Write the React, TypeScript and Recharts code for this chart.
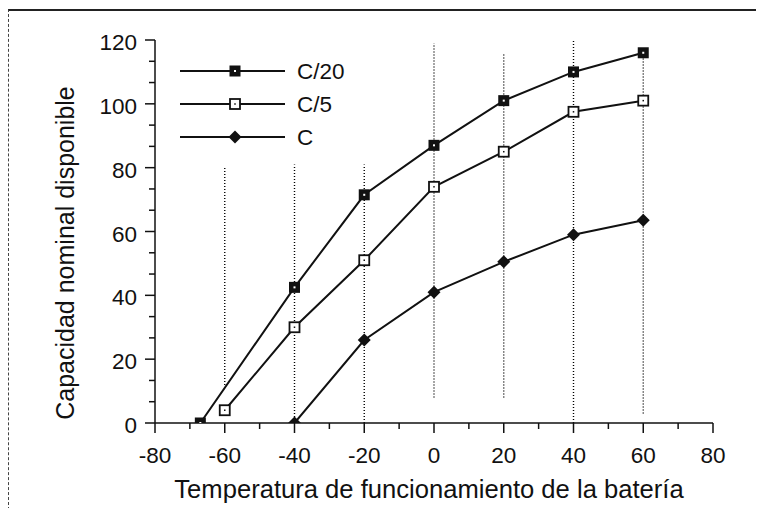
import { LineChart, Line, XAxis, YAxis, ReferenceLine } from "recharts";

const seriesNames = ["C/20", "C/5", "C"];

const c20Temps = [-67, -40, -20, 0, 20, 40, 60];
const c20Values = [0, 42.5, 71.5, 87, 101, 110, 116];

const c5Temps = [-60, -40, -20, 0, 20, 40, 60];
const c5Values = [4, 30, 51, 74, 85, 97.5, 101];

const cTemps = [-40, -20, 0, 20, 40, 60];
const cValues = [0, 26, 41, 50.5, 59, 63.5];

const xMajorTicks = [-80, -60, -40, -20, 0, 20, 40, 60, 80];
const xMinorTicks = [-70, -50, -30, -10, 10, 30, 50, 70];
const yMajorTicks = [0, 20, 40, 60, 80, 100, 120];
const yMinorTicks = [6.67, 13.33, 26.67, 33.33, 46.67, 53.33, 66.67, 73.33, 86.67, 93.33, 106.67, 113.33];

// dotted verticals, they do not all run the full height
const gridTemps = [-60, -40, -20, 0, 20, 40, 60];
const gridTops = [80, 81, 81, 119, 116, 120, 116];
const gridBottoms = [11, 0, 0, 8, 8, 0, 3];

const INK = "#111";
const FONT = "'Liberation Sans', Arial, Helvetica, sans-serif";

const toPoints = (temps: number[], values: number[]) => temps.map((t, i) => ({ t, v: values[i] }));

function FilledSquare({ cx, cy }: { cx: number; cy: number }) {
  return (
    <g>
      <rect x={cx - 5.5} y={cy - 5.5} width={11} height={11} fill={INK} />
      <rect x={cx - 1} y={cy - 1} width={2} height={2} fill="#fff" />
    </g>
  );
}

function OpenSquare({ cx, cy }: { cx: number; cy: number }) {
  return (
    <g>
      <rect x={cx - 5} y={cy - 5} width={10} height={10} fill="#fff" stroke={INK} strokeWidth={1.8} />
      <rect x={cx - 0.75} y={cy - 0.75} width={1.5} height={1.5} fill={INK} />
    </g>
  );
}

function Diamond({ cx, cy }: { cx: number; cy: number }) {
  return <path d={`M${cx},${cy - 6.5}L${cx + 6.5},${cy}L${cx},${cy + 6.5}L${cx - 6.5},${cy}Z`} fill={INK} />;
}

const markers = [FilledSquare, OpenSquare, Diamond];

function XTick({ x, y, payload }: any) {
  const major = xMajorTicks.includes(payload.value);
  return (
    <g>
      <line x1={x} y1={y} x2={x} y2={y + (major ? 10 : 6)} stroke={INK} strokeWidth={1.5} />
      {major && (
        <text x={x} y={y + 40} textAnchor="middle" fontSize={22.5} fontFamily={FONT} fill={INK}>
          {payload.value}
        </text>
      )}
    </g>
  );
}

function TopTick({ x, y, payload }: any) {
  if (!xMajorTicks.includes(payload.value)) return <g />;
  return <line x1={x} y1={y} x2={x} y2={y + 5} stroke={INK} strokeWidth={1.2} />;
}

function YTick({ x, y, payload }: any) {
  const major = yMajorTicks.includes(payload.value);
  return (
    <g>
      <line x1={x} y1={y} x2={x - (major ? 10 : 6)} y2={y} stroke={INK} strokeWidth={1.5} />
      {major && (
        <text x={x - 18} y={y + 10} textAnchor="end" fontSize={22.5} fontFamily={FONT} fill={INK}>
          {payload.value}
        </text>
      )}
    </g>
  );
}

function LegendBox() {
  return (
    <svg width={748} height={500} style={{ position: "absolute", left: 0, top: 0, pointerEvents: "none" }}>
      {seriesNames.map((name, i) => {
        const Marker = markers[i];
        const y = 63 + i * 33;
        return (
          <g key={name}>
            <line x1={172} y1={y} x2={277} y2={y} stroke={INK} strokeWidth={2} />
            <Marker cx={227} cy={y} />
            <text x={289} y={y} dominantBaseline="central" fontSize={22.5} fontFamily={FONT} fill={INK}>
              {name}
            </text>
          </g>
        );
      })}
    </svg>
  );
}

export default function App() {
  const series = [toPoints(c20Temps, c20Values), toPoints(c5Temps, c5Values), toPoints(cTemps, cValues)];

  return (
    <div style={{ position: "relative", width: 748, height: 500, fontFamily: FONT }}>
      <div
        style={{
          position: "absolute",
          left: 0,
          top: 1,
          width: 748,
          height: 499,
          borderTop: "2px solid #222",
          borderLeft: "1px dashed #444",
          pointerEvents: "none",
        }}
      />
      <LineChart width={748} height={500} margin={{ top: 32, right: 43, left: 87, bottom: 5 }}>
        <XAxis
          type="number"
          dataKey="t"
          domain={[-80, 80]}
          ticks={[...xMajorTicks, ...xMinorTicks].sort((a, b) => a - b)}
          interval={0}
          height={80}
          tickSize={0}
          tickMargin={0}
          tickLine={false}
          tick={<XTick />}
          axisLine={{ stroke: INK, strokeWidth: 1.5 }}
          allowDataOverflow
          label={() => (
            <text x={421} y={490} textAnchor="middle" fontSize={25.6} fontFamily={FONT} fill={INK}>
              Temperatura de funcionamiento de la batería
            </text>
          )}
        />
        <XAxis
          xAxisId="top"
          orientation="top"
          type="number"
          dataKey="t"
          domain={[-80, 80]}
          ticks={xMajorTicks}
          interval={0}
          height={0}
          tickSize={0}
          tickMargin={0}
          tickLine={false}
          tick={<TopTick />}
          axisLine={{ stroke: INK, strokeWidth: 1.5 }}
        />
        <YAxis
          type="number"
          domain={[0, 120]}
          ticks={[...yMajorTicks, ...yMinorTicks].sort((a, b) => a - b)}
          interval={0}
          width={60}
          tickSize={0}
          tickMargin={0}
          tickLine={false}
          tick={<YTick />}
          axisLine={{ stroke: INK, strokeWidth: 1.5 }}
          allowDataOverflow
          label={() => (
            <text
              x={57}
              y={245}
              transform="rotate(-90 57 245)"
              textAnchor="middle"
              dominantBaseline="central"
              fontSize={25}
              fontFamily={FONT}
              fill={INK}
            >
              Capacidad nominal disponible
            </text>
          )}
        />
        <YAxis
          yAxisId="right"
          orientation="right"
          type="number"
          domain={[0, 120]}
          width={0}
          tick={false}
          tickLine={false}
          axisLine={{ stroke: INK, strokeWidth: 1.5 }}
        />
        {gridTemps.map((t, i) => (
          <ReferenceLine
            key={t}
            segment={[
              { x: t, y: gridBottoms[i] },
              { x: t, y: gridTops[i] },
            ]}
            stroke="#000"
            strokeWidth={1.4}
            strokeDasharray="1 2"
          />
        ))}
        {series.map((points, i) => {
          const Marker = markers[i];
          return (
            <Line
              key={seriesNames[i]}
              name={seriesNames[i]}
              data={points}
              dataKey="v"
              type="linear"
              stroke={INK}
              strokeWidth={2}
              isAnimationActive={false}
              dot={(p: any) => <Marker key={`${seriesNames[i]}-${p.index}`} cx={p.cx} cy={p.cy} />}
            />
          );
        })}
      </LineChart>
      <LegendBox />
    </div>
  );
}
